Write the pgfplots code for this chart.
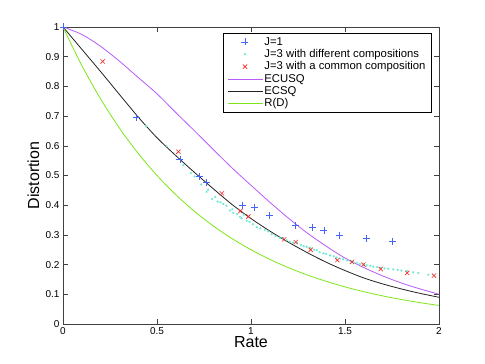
\documentclass[border=0pt]{standalone}
\usepackage{pgfplots}
\pgfplotsset{compat=1.18}
\usepackage{fontspec}
\setmainfont{Liberation Sans}

\definecolor{mblue}{RGB}{70,100,245}
\definecolor{mcyan}{RGB}{110,235,210}
\definecolor{mred}{RGB}{240,40,40}
\definecolor{mmag}{RGB}{185,90,250}
\definecolor{mgray}{RGB}{35,35,35}
\definecolor{mgreen}{RGB}{125,230,25}

\pgfplotsset{
  widelegend/.style={legend image code/.code={%
    \draw[mark repeat=2,mark phase=2,##1] plot coordinates {(0cm,0cm) (0.6cm,0cm) (1.2cm,0cm)};}}
}

\begin{document}
\begin{tikzpicture}
  \begin{axis}[
    scale only axis,
    width=376pt, height=297pt,
    xmin=0, xmax=2, ymin=0, ymax=1,
    xtick={0,0.5,...,2},
    ytick={0,0.1,...,1},
    tick align=inside,
    major tick length=5pt,
    axis line style={black!75, line width=0.6pt},
    every tick/.style={black!75},
    ticklabel style={font=\fontsize{10}{12}\selectfont},
    /pgf/number format/assume math mode=true,
    xlabel={Rate}, ylabel={Distortion},
    label style={font=\fontsize{16}{19}\selectfont},
    xlabel style={at={(axis description cs:0.5,-0.0808)}, anchor=base},
    ylabel style={at={(axis description cs:-0.0638,0.5)}, anchor=base},
    legend style={at={(rel axis cs:0.981,0.980)}, anchor=north east,
      font=\fontsize{11.3}{12.5}\selectfont, draw=black, line width=0.6pt,
      cells={anchor=west}, inner xsep=4pt, inner ysep=2pt, row sep=-1.2pt},
    legend cell align=left,
  ]

    % J=1
    \addplot[mblue, only marks, mark=+, mark size=3.5pt, mark options={mblue, solid, line width=0.7pt}, widelegend] coordinates {
      (0,1) (0.392,0.696) (0.622,0.553) (0.727,0.497) (0.764,0.477)
      (0.955,0.400) (1.017,0.392) (1.096,0.365) (1.238,0.331) (1.328,0.326)
      (1.388,0.315) (1.470,0.299) (1.612,0.287) (1.752,0.279)
    };
    \addlegendentry{J=1}

    % J=3 different compositions
    \addplot[mcyan, only marks, mark=*, mark size=0.9pt, mark options={draw=none, fill=mcyan}, widelegend] coordinates {
      (0.441,0.666) (0.551,0.599) (0.640,0.535) (0.680,0.508) (0.700,0.497)
      (0.735,0.470) (0.764,0.445) (0.772,0.452) (0.794,0.421) (0.810,0.428)
      (0.823,0.412) (0.838,0.410) (0.853,0.404) (0.870,0.398) (0.888,0.382)
      (0.900,0.386) (0.906,0.374) (0.925,0.370) (0.941,0.361) (0.950,0.356)
      (0.962,0.368) (0.977,0.348) (0.992,0.344) (1.010,0.336) (1.030,0.326)
      (1.050,0.322) (1.074,0.316) (1.090,0.312) (1.110,0.302) (1.130,0.296)
      (1.154,0.289) (1.170,0.290) (1.190,0.282) (1.207,0.277) (1.225,0.274)
      (1.245,0.272) (1.265,0.266) (1.280,0.262) (1.296,0.260) (1.315,0.257)
      (1.335,0.250) (1.350,0.248) (1.365,0.242) (1.385,0.238) (1.400,0.236)
      (1.420,0.231) (1.440,0.228) (1.455,0.224) (1.473,0.221) (1.490,0.218)
      (1.510,0.214) (1.530,0.212) (1.545,0.208) (1.562,0.206) (1.580,0.202)
      (1.600,0.200) (1.615,0.198) (1.635,0.196) (1.651,0.193) (1.670,0.192)
      (1.690,0.189) (1.710,0.187) (1.730,0.186) (1.757,0.184) (1.780,0.182)
      (1.800,0.180) (1.830,0.178) (1.863,0.174) (1.890,0.172) (1.943,0.166)
    };
    \addlegendentry{J=3 with different compositions}

    % J=3 common composition
    \addplot[mred, only marks, mark=x, mark size=3pt, mark options={mred, solid, line width=0.6pt}, widelegend] coordinates {
      (0.211,0.884) (0.614,0.580) (0.845,0.440) (0.943,0.380) (0.986,0.362)
      (1.176,0.285) (1.238,0.276) (1.317,0.250) (1.459,0.215) (1.537,0.209)
      (1.598,0.200) (1.690,0.185) (1.831,0.172) (1.973,0.163)
    };
    \addlegendentry{J=3 with a common composition}

    % ECUSQ
    \addplot[mmag, line width=0.8pt, smooth, widelegend] coordinates {
      (0,1) (0.1,0.975) (0.2,0.935) (0.3,0.885) (0.4,0.830) (0.5,0.775)
      (0.6,0.712) (0.7,0.650) (0.8,0.587) (0.9,0.525) (1.0,0.467)
      (1.1,0.410) (1.2,0.356) (1.3,0.306) (1.4,0.262) (1.5,0.222)
      (1.6,0.190) (1.7,0.162) (1.8,0.138) (1.9,0.118) (2.0,0.100)
    };
    \addlegendentry{ECUSQ}

    % ECSQ
    \addplot[mgray, line width=0.8pt, smooth, widelegend] coordinates {
      (0,1) (0.1,0.925) (0.2,0.850) (0.3,0.773) (0.4,0.697) (0.5,0.627)
      (0.6,0.567) (0.7,0.510) (0.8,0.455) (0.9,0.402) (1.0,0.355)
      (1.1,0.313) (1.2,0.275) (1.3,0.240) (1.4,0.208) (1.5,0.180)
      (1.6,0.155) (1.7,0.135) (1.8,0.118) (1.9,0.103) (2.0,0.090)
    };
    \addlegendentry{ECSQ}

    % R(D)
    \addplot[mgreen, line width=0.8pt, smooth, widelegend] coordinates {
      (0,1) (0.1,0.8706) (0.2,0.7579) (0.3,0.6598) (0.4,0.5743) (0.5,0.5)
      (0.6,0.4353) (0.7,0.3789) (0.8,0.3299) (0.9,0.2872) (1.0,0.25)
      (1.1,0.2176) (1.2,0.1895) (1.3,0.1649) (1.4,0.1436) (1.5,0.125)
      (1.6,0.1088) (1.7,0.0947) (1.8,0.0825) (1.9,0.0718) (2.0,0.0625)
    };
    \addlegendentry{R(D)}

  \end{axis}
  \path ([xshift=-63pt,yshift=-40pt]current axis.south west)
    rectangle ([xshift=46pt,yshift=27pt]current axis.north east);
\end{tikzpicture}
\end{document}
